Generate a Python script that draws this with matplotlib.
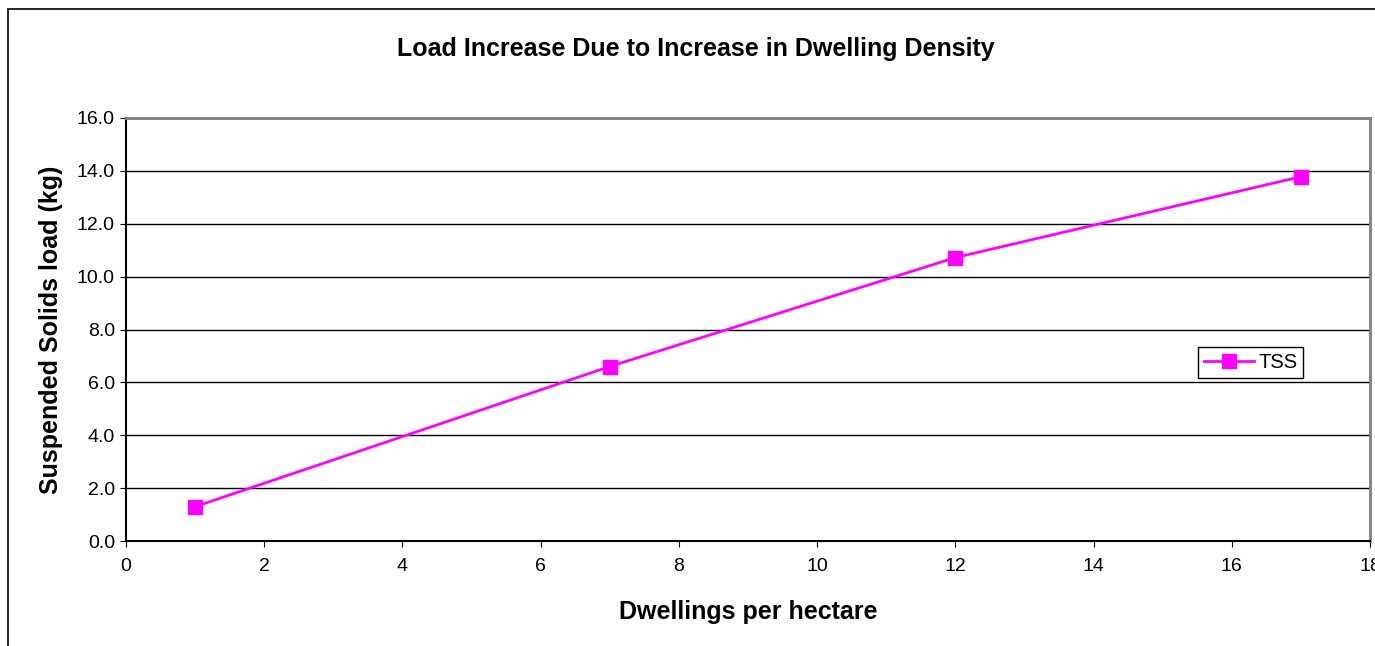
import matplotlib.pyplot as plt
from matplotlib.patches import Rectangle

plt.rcParams['font.family'] = ['Liberation Sans', 'DejaVu Sans']

dwellings = [1, 7, 12, 17]
tss_load = [1.30, 6.60, 10.72, 13.78]
x_ticks = [0, 2, 4, 6, 8, 10, 12, 14, 16, 18]
y_ticks = [0, 2, 4, 6, 8, 10, 12, 14, 16]

fig = plt.figure(figsize=(13.75, 6.46), dpi=100)
ax = fig.add_axes([126 / 1375, 1 - 541 / 646, 1244 / 1375, 423 / 646])

# outer chart border (cut off at right and bottom)
fig.patches.append(Rectangle((8 / 1375, -0.1), 1.1, 1.1 - 9 / 646, transform=fig.transFigure,
                             fill=False, edgecolor='black', linewidth=1.2))

ax.plot(dwellings, tss_load, color='#FF00FF', linewidth=2, marker='s', markersize=10,
        label='TSS')

ax.set_xlim(0, 18)
ax.set_ylim(0, 16)
ax.set_xticks(x_ticks)
ax.set_yticks(y_ticks)
ax.set_yticklabels([f'{v:.1f}' for v in y_ticks])
ax.tick_params(labelsize=14, length=4, direction='out', color='black')
ax.tick_params(axis='x', pad=8)
ax.tick_params(axis='y', pad=4)
ax.grid(axis='y', color='black', linewidth=1)
ax.set_axisbelow(True)

for side in ['top', 'right']:
    ax.spines[side].set_color('#808080')
    ax.spines[side].set_linewidth(2)
for side in ['left', 'bottom']:
    ax.spines[side].set_color('black')
    ax.spines[side].set_linewidth(1.5)

ax.set_xlabel('Dwellings per hectare', fontsize=18, fontweight='bold', labelpad=18)
ax.set_ylabel('Suspended Solids load (kg)', fontsize=18, fontweight='bold', labelpad=10)
fig.text(696 / 1375, 1 - 49 / 646, 'Load Increase Due to Increase in Dwelling Density',
         ha='center', va='center', fontsize=18, fontweight='bold')

leg = ax.legend(loc='center', bbox_to_anchor=(0.904, 0.423), fontsize=14.5, fancybox=False,
                framealpha=1, edgecolor='black', handlelength=2.5, borderpad=0.3,
                handletextpad=0.2)
leg.get_frame().set_linewidth(1)

fig.savefig('out.png', dpi=100)
